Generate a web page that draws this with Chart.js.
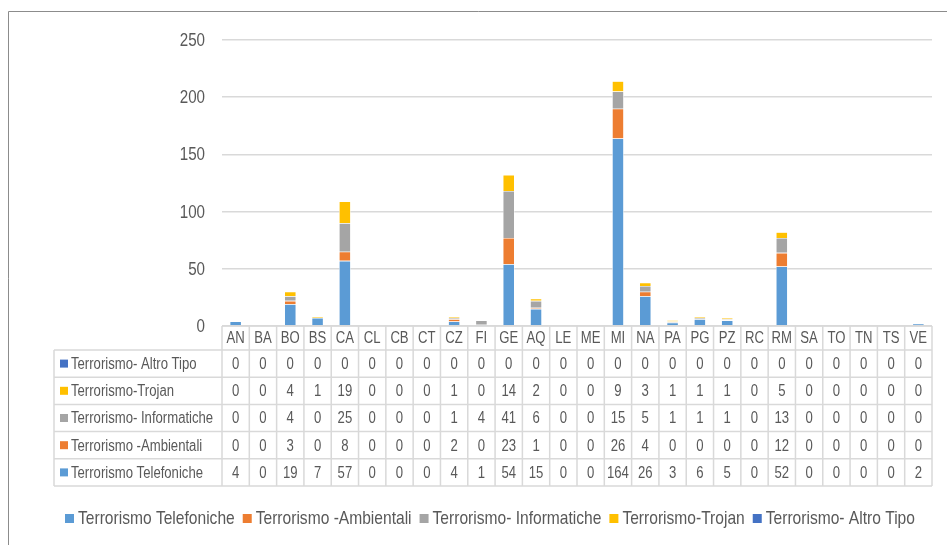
<!DOCTYPE html>
<html>
<head>
<meta charset="utf-8">
<script src="https://cdn.jsdelivr.net/npm/chart.js@4.4.1/dist/chart.umd.min.js"></script>
<style>
  html, body { margin: 0; padding: 0; background: #fff; }
  #wrap { width: 947px; height: 545px; position: relative; }
</style>
</head>
<body>
<div id="wrap"><canvas id="c"></canvas></div>
<script>
const categories = ['AN', 'BA', 'BO', 'BS', 'CA', 'CL', 'CB', 'CT', 'CZ', 'FI', 'GE', 'AQ', 'LE', 'ME', 'MI', 'NA', 'PA', 'PG', 'PZ', 'RC', 'RM', 'SA', 'TO', 'TN', 'TS', 'VE'];
const telefoniche  = [4, 0, 19, 7, 57, 0, 0, 0, 4, 1, 54, 15, 0, 0, 164, 26, 3, 6, 5, 0, 52, 0, 0, 0, 0, 2];
const ambientali   = [0, 0, 3, 0, 8, 0, 0, 0, 2, 0, 23, 1, 0, 0, 26, 4, 0, 0, 0, 0, 12, 0, 0, 0, 0, 0];
const informatiche = [0, 0, 4, 0, 25, 0, 0, 0, 1, 4, 41, 6, 0, 0, 15, 5, 1, 1, 1, 0, 13, 0, 0, 0, 0, 0];
const trojan       = [0, 0, 4, 1, 19, 0, 0, 0, 1, 0, 14, 2, 0, 0, 9, 3, 1, 1, 1, 0, 5, 0, 0, 0, 0, 0];
const altroTipo    = [0, 0, 0, 0, 0, 0, 0, 0, 0, 0, 0, 0, 0, 0, 0, 0, 0, 0, 0, 0, 0, 0, 0, 0, 0, 0];
const yTicks = [0, 50, 100, 150, 200, 250];

const FONT = '"Liberation Sans", Arial, sans-serif';
const TEXT = '#595959';
const LINE = '#d9d9d9';
const NARROW = 0.82; // squeeze Arial-like text to look like Arial Narrow

function narrowText(ctx, str, x, y, align) {
  const w = ctx.measureText(str).width * NARROW;
  let left = x;
  if (align === 'center') left = x - w / 2;
  else if (align === 'right') left = x - w;
  ctx.save();
  ctx.textAlign = 'left';
  ctx.translate(left, y);
  ctx.scale(NARROW, 1);
  ctx.fillText(str, 0, 0);
  ctx.restore();
  return w;
}

// table under the plot + legend at the bottom
const tablePlugin = {
  id: 'dataTable',
  afterDraw(chart) {
    const ctx = chart.ctx;
    const x = chart.scales.x;
    const y = chart.scales.y;
    const area = chart.chartArea;
    const colW = (x.right - x.left) / categories.length;
    const headTop = area.bottom, headBot = 350, rowH = 27.2;
    const tableLeft = 54;
    const rows = chart.data.datasets.slice().reverse();
    const tableBot = headBot + rowH * rows.length;

    ctx.save();
    // outer frame
    ctx.strokeStyle = '#8c8c8c';
    ctx.lineWidth = 1;
    ctx.beginPath();
    ctx.moveTo(8.5, 560); ctx.lineTo(8.5, 11.5); ctx.lineTo(960, 11.5);
    ctx.stroke();

    ctx.strokeStyle = LINE;
    ctx.lineWidth = 1.5;
    ctx.beginPath();
    ctx.moveTo(x.left, headTop); ctx.lineTo(x.right, headTop);
    for (let r = 0; r <= rows.length; r++) {
      const yy = headBot + r * rowH;
      ctx.moveTo(tableLeft, yy); ctx.lineTo(x.right, yy);
    }
    ctx.moveTo(tableLeft, headBot); ctx.lineTo(tableLeft, tableBot);
    for (let i = 0; i <= categories.length; i++) {
      const xx = x.left + i * colW;
      ctx.moveTo(xx, headTop); ctx.lineTo(xx, tableBot);
    }
    ctx.stroke();

    ctx.textBaseline = 'middle';
    ctx.fillStyle = TEXT;

    // y tick labels
    ctx.font = '18.5px ' + FONT;
    yTicks.forEach(v => narrowText(ctx, String(v), 205, y.getPixelForValue(v) + 1, 'right'));

    ctx.font = '16px ' + FONT;
    categories.forEach((c, i) => {
      narrowText(ctx, c, x.getPixelForValue(i), (headTop + headBot) / 2 + 1, 'center');
    });
    rows.forEach((ds, r) => {
      const cy = headBot + r * rowH + rowH / 2 + 1;
      ctx.fillStyle = TEXT;
      ds.data.forEach((v, i) => narrowText(ctx, String(v), x.getPixelForValue(i), cy, 'center'));
      ctx.fillStyle = ds.backgroundColor;
      ctx.fillRect(tableLeft + 6, cy - 5, 8, 8);
      ctx.fillStyle = TEXT;
      narrowText(ctx, ds.label, tableLeft + 17, cy, 'left');
    });

    // legend
    ctx.font = '19px ' + FONT;
    let lx = 65;
    const ly = 519;
    chart.data.datasets.forEach(ds => {
      ctx.fillStyle = ds.backgroundColor;
      ctx.fillRect(lx, ly - 5, 9, 9);
      ctx.fillStyle = TEXT;
      const w = narrowText(ctx, ds.label, lx + 13, ly, 'left');
      lx += 13 + w + 8;
    });
    ctx.restore();
  }
};

const mk = (label, data, color) => ({
  label, data, backgroundColor: color,
  borderColor: '#ffffff', borderWidth: 0.6,
  barPercentage: 0.43, categoryPercentage: 1
});

new Chart(document.getElementById('c'), {
  type: 'bar',
  data: {
    labels: categories,
    datasets: [
      mk('Terrorismo Telefoniche', telefoniche, '#5B9BD5'),
      mk('Terrorismo -Ambientali', ambientali, '#ED7D31'),
      mk('Terrorismo- Informatiche', informatiche, '#A5A5A5'),
      mk('Terrorismo-Trojan', trojan, '#FFC000'),
      mk('Terrorismo- Altro Tipo', altroTipo, '#4472C4')
    ]
  },
  options: {
    responsive: true,
    maintainAspectRatio: false,
    animation: false,
    layout: { padding: { top: 40, bottom: 219, left: 0, right: 15 } },
    scales: {
      x: { stacked: true, display: false },
      y: {
        stacked: true,
        min: 0, max: 250,
        afterBuildTicks: s => { s.ticks = yTicks.map(v => ({ value: v })); },
        afterFit: s => { s.width = 222; },
        border: { display: false },
        grid: { color: LINE, lineWidth: 1.5, drawTicks: false },
        ticks: { display: false }
      }
    },
    plugins: {
      legend: { display: false },
      tooltip: { enabled: false }
    }
  },
  plugins: [tablePlugin]
});
</script>
</body>
</html>
